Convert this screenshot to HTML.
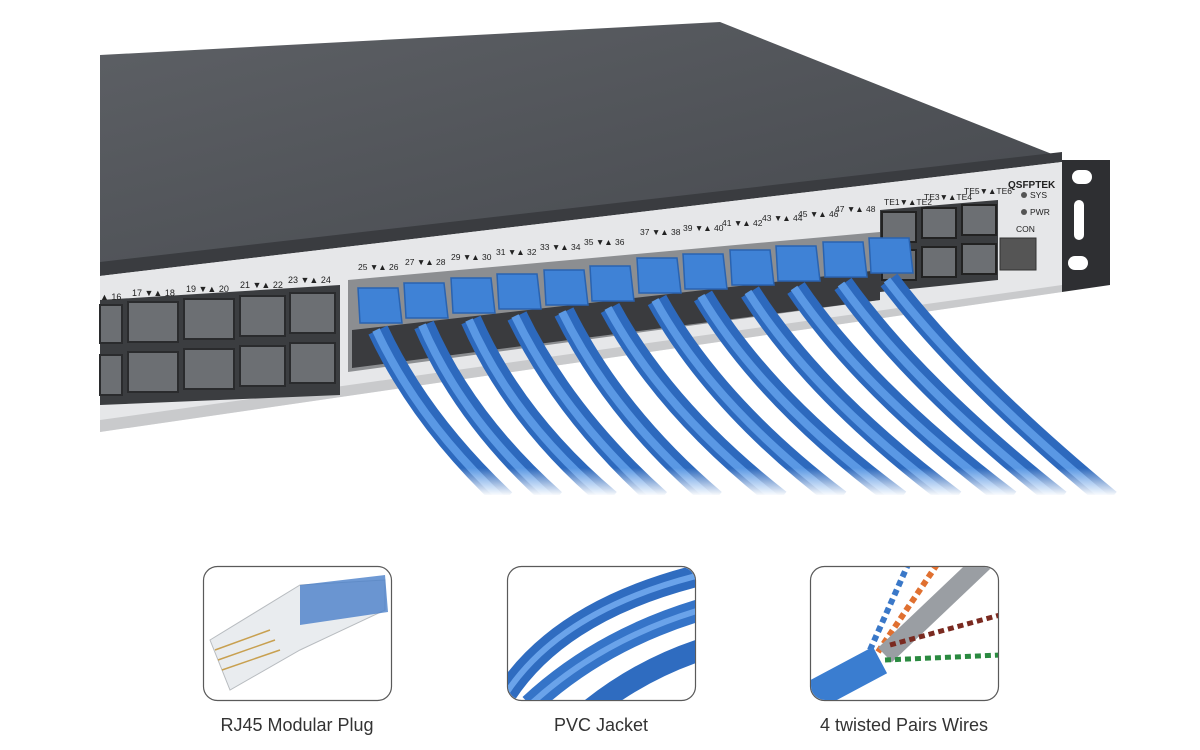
<!DOCTYPE html>
<html><head><meta charset="utf-8"><style>
html,body{margin:0;padding:0;background:#fff;width:1200px;height:750px;overflow:hidden;font-family:"Liberation Sans",sans-serif}
</style></head><body>
<svg width="1200" height="750" viewBox="0 0 1200 750" xmlns="http://www.w3.org/2000/svg">
<defs>
<linearGradient id="top" x1="0" y1="0" x2="1" y2="1">
<stop offset="0" stop-color="#5d6065"/><stop offset="1" stop-color="#45484d"/></linearGradient>
<linearGradient id="fade" x1="0" y1="0" x2="0" y2="1">
<stop offset="0" stop-color="#fff" stop-opacity="0"/><stop offset="1" stop-color="#fff" stop-opacity="1"/></linearGradient>
<clipPath id="c1"><rect x="204" y="567" width="187" height="133" rx="14"/></clipPath>
<clipPath id="c2"><rect x="508" y="567" width="187" height="133" rx="14"/></clipPath>
<clipPath id="c3"><rect x="811" y="567" width="187" height="133" rx="14"/></clipPath>
</defs>
<polygon points="100,55 720,22 1062,158 100,272" fill="url(#top)"/>
<polygon points="100,262 1062,152 1062,162 100,276" fill="#3a3c40"/>
<polygon points="100,276 1062,162 1062,292 100,432" fill="#e6e7e9"/>
<polygon points="100,420 1062,285 1062,292 100,432" fill="#c9cacc"/>
<polygon points="100,300 340,285 340,395 100,405" fill="#3b3d40"/>
<g fill="#6c6f73" stroke="#2a2b2d" stroke-width="2">
<rect x="100" y="305" width="22" height="38"/><rect x="128" y="302" width="50" height="40"/><rect x="184" y="299" width="50" height="40"/><rect x="240" y="296" width="45" height="40"/><rect x="290" y="293" width="45" height="40"/>
<rect x="100" y="355" width="22" height="40"/><rect x="128" y="352" width="50" height="40"/><rect x="184" y="349" width="50" height="40"/><rect x="240" y="346" width="45" height="40"/><rect x="290" y="343" width="45" height="40"/>
</g>
<g font-size="9" fill="#222"><text x="100" y="300">▲ 16</text><text x="132" y="296">17 ▼▲ 18</text><text x="186" y="292">19 ▼▲ 20</text><text x="240" y="288">21 ▼▲ 22</text><text x="288" y="283">23 ▼▲ 24</text></g>
<polygon points="348,280 880,232 880,300 348,372" fill="#8c8e91"/>
<polygon points="352,330 880,270 880,300 352,368" fill="#3a3b3e"/>
<g font-size="8.5" fill="#222">
<text x="358" y="270">25 ▼▲ 26</text><text x="405" y="265">27 ▼▲ 28</text><text x="451" y="260">29 ▼▲ 30</text><text x="496" y="255">31 ▼▲ 32</text><text x="540" y="250">33 ▼▲ 34</text><text x="584" y="245">35 ▼▲ 36</text>
<text x="640" y="235">37 ▼▲ 38</text><text x="683" y="231">39 ▼▲ 40</text><text x="722" y="226">41 ▼▲ 42</text><text x="762" y="221">43 ▼▲ 44</text><text x="798" y="217">45 ▼▲ 46</text><text x="835" y="212">47 ▼▲ 48</text>
<text x="884" y="205">TE1▼▲TE2</text><text x="924" y="200">TE3▼▲TE4</text><text x="964" y="194">TE5▼▲TE6</text>
<text x="1030" y="198">SYS</text><text x="1030" y="215">PWR</text><text x="1016" y="232">CON</text>
</g>
<text x="1008" y="188" font-size="10" font-weight="bold" fill="#222">QSFPTEK</text>
<polygon points="880,210 998,200 998,280 880,292" fill="#3b3d40"/>
<g fill="#6c6f73" stroke="#222" stroke-width="2">
<rect x="882" y="212" width="34" height="30"/><rect x="922" y="208" width="34" height="30"/><rect x="962" y="205" width="34" height="30"/>
<rect x="882" y="250" width="34" height="30"/><rect x="922" y="247" width="34" height="30"/><rect x="962" y="244" width="34" height="30"/>
</g>
<circle cx="1024" cy="195" r="3" fill="#555"/><circle cx="1024" cy="212" r="3" fill="#555"/>
<rect x="1000" y="238" width="36" height="32" fill="#555" stroke="#333"/>
<polygon points="1062,160 1110,160 1110,285 1062,292" fill="#2e2f32"/>
<rect x="1072" y="170" width="20" height="14" rx="7" fill="#fff"/><rect x="1074" y="200" width="10" height="40" rx="5" fill="#fff"/><rect x="1068" y="256" width="20" height="14" rx="7" fill="#fff"/>
<g fill="none" stroke-linecap="butt">
<g stroke="#2d69bd" stroke-width="21">
<path d="M378,330 Q420,420 505,500"/><path d="M424,325 Q465,420 555,500"/><path d="M471,320 Q515,420 610,500"/><path d="M517,316 Q565,415 660,500"/><path d="M564,312 Q615,415 715,500"/><path d="M610,308 Q665,410 780,500"/><path d="M657,300 Q715,405 840,500"/><path d="M703,296 Q765,400 900,500"/><path d="M750,292 Q815,395 955,500"/><path d="M796,288 Q865,390 1010,500"/><path d="M843,284 Q915,385 1060,500"/><path d="M889,280 Q965,380 1110,500"/>
</g>
<g stroke="#5a98e4" stroke-width="8">
<path d="M376,330 Q418,420 503,500"/><path d="M422,325 Q463,420 553,500"/><path d="M469,320 Q513,420 608,500"/><path d="M515,316 Q563,415 658,500"/><path d="M562,312 Q613,415 713,500"/><path d="M608,308 Q663,410 778,500"/><path d="M655,300 Q713,405 838,500"/><path d="M701,296 Q763,400 898,500"/><path d="M748,292 Q813,395 953,500"/><path d="M794,288 Q863,390 1008,500"/><path d="M841,284 Q913,385 1058,500"/><path d="M887,280 Q963,380 1108,500"/>
</g>
</g>
<g fill="#3f82d6" stroke="#2a63b0" stroke-width="1.5">
<path d="M358,288 h40 l4,35 h-42 z"/><path d="M404,283 h40 l4,35 h-42 z"/><path d="M451,278 h40 l4,35 h-42 z"/><path d="M497,274 h40 l4,35 h-42 z"/><path d="M544,270 h40 l4,35 h-42 z"/><path d="M590,266 h40 l4,35 h-42 z"/>
<path d="M637,258 h40 l4,35 h-42 z"/><path d="M683,254 h40 l4,35 h-42 z"/><path d="M730,250 h40 l4,35 h-42 z"/><path d="M776,246 h40 l4,35 h-42 z"/><path d="M823,242 h40 l4,35 h-42 z"/><path d="M869,238 h40 l4,35 h-42 z"/>
</g>
<rect x="330" y="468" width="820" height="28" fill="url(#fade)"/>
<rect x="330" y="495" width="820" height="20" fill="#fff"/>
<g stroke="#5a5a5a" stroke-width="1.2" fill="#fff">
<rect x="203.5" y="566.5" width="188" height="134" rx="14"/>
<rect x="507.5" y="566.5" width="188" height="134" rx="14"/>
<rect x="810.5" y="566.5" width="188" height="134" rx="14"/>
</g>
<g clip-path="url(#c1)">
<polygon points="210,640 300,585 385,580 385,610 300,650 230,690" fill="#e9ecef" stroke="#b8bcc0"/>
<polygon points="300,585 385,575 388,612 300,625" fill="#4a7fc9" opacity="0.8"/>
<g stroke="#c8a050" stroke-width="1.5"><line x1="215" y1="650" x2="270" y2="630"/><line x1="218" y1="660" x2="275" y2="640"/><line x1="222" y1="670" x2="280" y2="650"/></g>
</g>
<g fill="none" stroke-linecap="butt" clip-path="url(#c2)">
<path d="M505,695 Q560,610 700,575" stroke="#2f6cc0" stroke-width="22"/>
<path d="M530,705 Q600,640 700,610" stroke="#3574c8" stroke-width="22"/>
<path d="M590,710 Q640,670 700,650" stroke="#2f6cc0" stroke-width="22"/>
<path d="M505,695 Q560,610 700,575" stroke="#6aa3ea" stroke-width="6"/>
<path d="M530,705 Q600,640 700,610" stroke="#6aa3ea" stroke-width="6"/>
</g>
<g fill="none" stroke-linecap="butt" clip-path="url(#c3)">
<path d="M870,650 L910,560" stroke="#3a78c8" stroke-width="6" stroke-dasharray="6 4"/>
<path d="M878,652 L940,560" stroke="#e07030" stroke-width="6" stroke-dasharray="6 4"/>
<path d="M885,655 L985,560" stroke="#9a9ea3" stroke-width="20"/>
<path d="M890,645 L1000,615" stroke="#7a2a20" stroke-width="5" stroke-dasharray="6 4"/>
<path d="M885,660 L1000,655" stroke="#2a8a40" stroke-width="5" stroke-dasharray="6 4"/>
<path d="M805,700 L880,660" stroke="#3a7dd0" stroke-width="30"/>
</g>
<g font-size="18" fill="#333" text-anchor="middle">
<text x="297" y="731">RJ45 Modular Plug</text>
<text x="601" y="731">PVC Jacket</text>
<text x="904" y="731">4 twisted Pairs Wires</text>
</g>
</svg>
</body></html>
